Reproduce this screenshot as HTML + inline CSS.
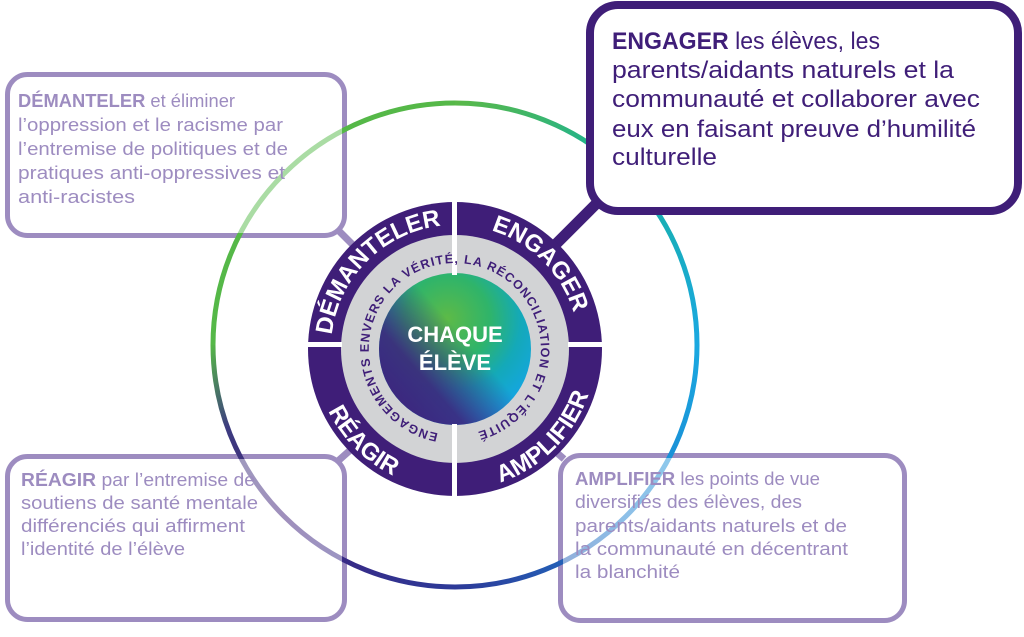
<!DOCTYPE html>
<html><head><meta charset="utf-8"><style>
html,body{margin:0;padding:0;background:#fff;}
svg{display:block;font-family:"Liberation Sans",sans-serif;}
</style></head><body>
<svg width="1024" height="637" viewBox="0 0 1024 637" xmlns="http://www.w3.org/2000/svg">
<defs>
<linearGradient id="gD" gradientUnits="userSpaceOnUse" x1="455" y1="103" x2="697" y2="345">
<stop offset="0" stop-color="#5ab848"/><stop offset="0.45" stop-color="#16b39a"/><stop offset="1" stop-color="#1aa8e0"/>
</linearGradient>
<linearGradient id="gC" gradientUnits="userSpaceOnUse" x1="697" y1="345" x2="455" y2="587">
<stop offset="0" stop-color="#1aa8e0"/><stop offset="0.5" stop-color="#1a7fd0"/><stop offset="1" stop-color="#2d3a98"/>
</linearGradient>
<linearGradient id="gB" gradientUnits="userSpaceOnUse" x1="455" y1="587" x2="213" y2="345">
<stop offset="0" stop-color="#2d3a98"/><stop offset="0.5" stop-color="#3f1e78"/><stop offset="0.8" stop-color="#3d3c80"/><stop offset="1" stop-color="#55b448"/>
</linearGradient>
<radialGradient id="core" cx="0.45" cy="0.3" r="0.8">
<stop offset="0" stop-color="#5dba47"/>
<stop offset="0.35" stop-color="#2fb46a"/>
<stop offset="0.6" stop-color="#14a9b8"/>
<stop offset="0.85" stop-color="#14a6e0"/>
</radialGradient>
<linearGradient id="coreP" x1="0" y1="1" x2="0.8" y2="0.3">
<stop offset="0" stop-color="#3f1e78"/>
<stop offset="0.4" stop-color="#3f1e78" stop-opacity="0.85"/>
<stop offset="0.75" stop-color="#3f1e78" stop-opacity="0"/>
</linearGradient>
<path id="pTop" d="M 331 349 A 124 124 0 0 1 579 349"/>
<path id="pBot" d="M 314 349 A 141 141 0 0 0 596 349"/>
<path id="gRing" d="M 438.2 433.4 A 86 86 0 1 1 469.9 433.7"/>
</defs>
<!-- boxes (except top-right) -->
<rect x="7.5" y="74.5" width="337" height="161" rx="20" fill="#fff" stroke="#9d8cc0" stroke-width="5"/>
<rect x="7.5" y="456.5" width="337" height="163" rx="20" fill="#fff" stroke="#9d8cc0" stroke-width="5"/>
<rect x="560.5" y="455.5" width="344" height="165" rx="20" fill="#fff" stroke="#9d8cc0" stroke-width="5"/>
<!-- outer circle -->
<g fill="none" stroke-width="5">
<path d="M 213 345 A 242 242 0 0 1 455 103" stroke="#55b848"/>
<path d="M 455 103 A 242 242 0 0 1 697 345" stroke="url(#gD)"/>
<path d="M 697 345 A 242 242 0 0 1 455 587" stroke="url(#gC)"/>
<path d="M 455 587 A 242 242 0 0 1 213 345" stroke="url(#gB)"/>
</g>
<!-- fade circle inside boxes -->
<g fill="#fff" opacity="0.5">
<rect x="10" y="77" width="332" height="156" rx="17"/>
<rect x="10" y="459" width="332" height="158" rx="17"/>
<rect x="563" y="458" width="339" height="160" rx="17"/>
</g>
<!-- connectors -->
<line x1="338" y1="230" x2="356" y2="248" stroke="#9d8cc0" stroke-width="7"/>
<line x1="338" y1="461" x2="356" y2="445" stroke="#9d8cc0" stroke-width="7"/>
<line x1="564" y1="459" x2="548" y2="445" stroke="#9d8cc0" stroke-width="7"/>
<line x1="603" y1="197" x2="548" y2="252" stroke="#3f1e78" stroke-width="11"/>
<!-- top-right box -->
<rect x="590" y="5" width="428" height="206" rx="28" fill="#fff" stroke="#3f1e78" stroke-width="8"/>
<!-- center disc -->
<circle cx="455" cy="349" r="147" fill="#3f1e78"/>
<circle cx="455" cy="349" r="114" fill="#d2d3d5"/>
<circle cx="455" cy="349" r="76" fill="url(#core)"/>
<circle cx="455" cy="349" r="76" fill="url(#coreP)"/>
<rect x="452" y="198" width="5" height="77" fill="#fff"/>
<rect x="452" y="424" width="5" height="77" fill="#fff"/>
<rect x="304" y="342" width="38" height="5" fill="#fff"/>
<rect x="568" y="342" width="38" height="5" fill="#fff"/>
<g fill="#fff" font-weight="bold" font-size="24">
<text><textPath href="#pTop" startOffset="25%" text-anchor="middle">DÉMANTELER</textPath></text>
<text><textPath href="#pTop" startOffset="75%" text-anchor="middle">ENGAGER</textPath></text>
<text><textPath href="#pBot" startOffset="25%" text-anchor="middle">RÉAGIR</textPath></text>
<text><textPath href="#pBot" startOffset="75%" text-anchor="middle">AMPLIFIER</textPath></text>
</g>
<text fill="#3f1e78" font-weight="bold" font-size="12.5"><textPath href="#gRing" textLength="500" lengthAdjust="spacing">ENGAGEMENTS ENVERS LA VÉRITÉ, LA RÉCONCILIATION ET L’ÉQUITÉ</textPath></text>
<g fill="#fff" font-weight="bold" font-size="22" text-anchor="middle">
<text x="455" y="342">CHAQUE</text>
<text x="455" y="370">ÉLÈVE</text>
</g>
<!-- box texts -->
<g fill="#9d8cc0" font-size="18" lengthAdjust="spacingAndGlyphs">
<text x="18" y="107" textLength="217" lengthAdjust="spacingAndGlyphs"><tspan font-weight="bold">DÉMANTELER</tspan> et éliminer</text>
<text x="18" y="131" textLength="265" lengthAdjust="spacingAndGlyphs">l’oppression et le racisme par</text>
<text x="18" y="155" textLength="270" lengthAdjust="spacingAndGlyphs">l’entremise de politiques et de</text>
<text x="18" y="179" textLength="267" lengthAdjust="spacingAndGlyphs">pratiques anti-oppressives et</text>
<text x="18" y="203" textLength="117" lengthAdjust="spacingAndGlyphs">anti-racistes</text>
<text x="21" y="486" textLength="234" lengthAdjust="spacingAndGlyphs"><tspan font-weight="bold">RÉAGIR</tspan> par l’entremise de</text>
<text x="21" y="509" textLength="237" lengthAdjust="spacingAndGlyphs">soutiens de santé mentale</text>
<text x="21" y="532" textLength="224" lengthAdjust="spacingAndGlyphs">différenciés qui affirment</text>
<text x="21" y="555" textLength="164" lengthAdjust="spacingAndGlyphs">l’identité de l’élève</text>
<text x="575" y="485" textLength="245" lengthAdjust="spacingAndGlyphs"><tspan font-weight="bold">AMPLIFIER</tspan> les points de vue</text>
<text x="575" y="508" textLength="227" lengthAdjust="spacingAndGlyphs">diversifiés des élèves, des</text>
<text x="575" y="532" textLength="272" lengthAdjust="spacingAndGlyphs">parents/aidants naturels et de</text>
<text x="575" y="555" textLength="273" lengthAdjust="spacingAndGlyphs">la communauté en décentrant</text>
<text x="575" y="578" textLength="105" lengthAdjust="spacingAndGlyphs">la blanchité</text>
</g>
<g fill="#3f1e78" font-size="24">
<text x="612" y="49" textLength="268" lengthAdjust="spacingAndGlyphs"><tspan font-weight="bold">ENGAGER</tspan> les élèves, les</text>
<text x="612" y="78" textLength="342" lengthAdjust="spacingAndGlyphs">parents/aidants naturels et la</text>
<text x="612" y="107" textLength="368" lengthAdjust="spacingAndGlyphs">communauté et collaborer avec</text>
<text x="612" y="137" textLength="364" lengthAdjust="spacingAndGlyphs">eux en faisant preuve d’humilité</text>
<text x="612" y="165" textLength="105" lengthAdjust="spacingAndGlyphs">culturelle</text>
</g>
</svg>
</body></html>
